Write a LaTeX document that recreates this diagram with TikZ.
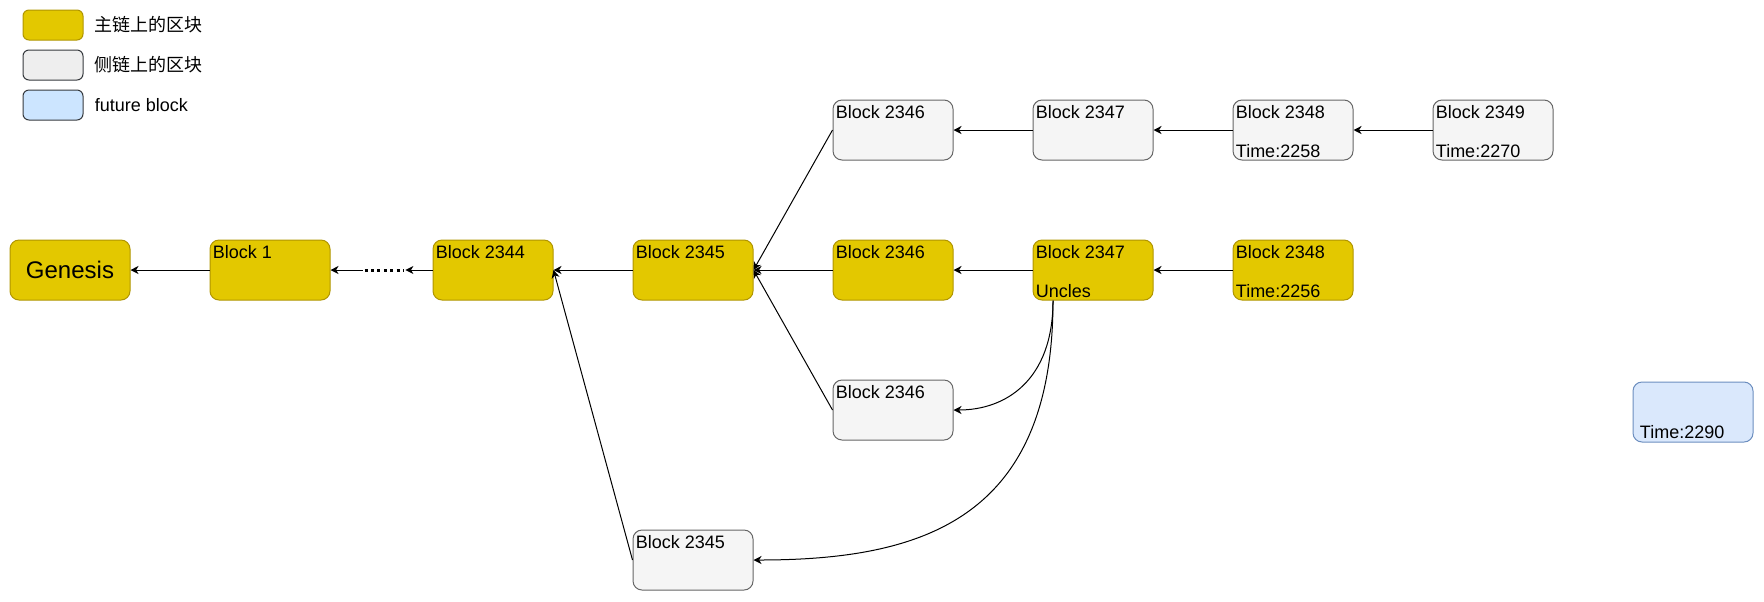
\documentclass[tikz,border=0pt]{standalone}
\usepackage{fontspec}
\setmainfont{Liberation Sans}
\newfontfamily\cjk{Noto Sans CJK SC}
\usepackage{tikz}
\usetikzlibrary{arrows.meta,calc,positioning}
\definecolor{mainfill}{HTML}{E3C800}
\definecolor{mainbd}{HTML}{B09500}
\definecolor{sidefill}{HTML}{F5F5F5}
\definecolor{sidebd}{HTML}{666666}
\definecolor{futfill}{HTML}{DAE8FC}
\definecolor{futbd}{HTML}{6C8EBF}
\definecolor{lgside}{HTML}{EEEEEE}
\definecolor{lgfut}{HTML}{CCE5FF}
\definecolor{lgbd}{HTML}{36393D}
\newcommand{\blkfont}{\fontsize{9}{10.8}\selectfont}
\newcommand{\genfont}{\fontsize{12}{14.4}\selectfont}
\tikzset{
	blk/.style={rounded corners=4.5pt, minimum width=60pt, minimum height=30pt, inner sep=0pt, line width=0.5pt},
	mainblk/.style={blk, draw=mainbd, fill=mainfill},
	sideblk/.style={blk, draw=sidebd, fill=sidefill},
	futblk/.style={blk, draw=futbd, fill=futfill},
	toptxt/.style={label={[anchor=north west, inner xsep=1.5pt, inner ysep=3pt]north west:{#1}}},
	bottxt/.style={label={[anchor=south west, inner xsep=1.5pt, inner ysep=1.3pt]south west:{#1}}},
	futtxt/.style={label={[anchor=south west, inner xsep=3.5pt, inner ysep=1.5pt]south west:{#1}}},
	lgbox/.style={rounded corners=3pt, minimum width=30pt, minimum height=15pt, inner sep=0pt, line width=0.5pt},
	lgtxt/.style={inner sep=0pt, right=5.5pt of #1},
	arr/.style={-{Stealth[length=4pt,width=4pt,inset=1.2pt]}, line width=0.5pt},
}

\begin{document}
\begin{tikzpicture}[x=0.5pt, y=-0.5pt, font=\blkfont]
		\useasboundingbox (0,0) rectangle (1764,601);
		% legend
		\node[lgbox, draw=mainbd, fill=mainfill] (lgmain) at (53,25) {};
		\node[lgbox, draw=lgbd, fill=lgside] (lgside) at (53,65) {};
		\node[lgbox, draw=lgbd, fill=lgfut] (lgfut) at (53,105) {};
		\node[lgtxt=lgmain] (lgmaint) {\cjk 主链上的区块};
		\node[lgtxt=lgside] (lgsidet) {\cjk 侧链上的区块};
		\node[lgtxt=lgfut] (lgfutt) {future block};
		% main chain
		\node[mainblk, font=\genfont] (gen) at (70,270) {Genesis};
		\node[mainblk, toptxt=Block 1] (m1) at (270,270) {};
		\node[minimum width=21pt, inner sep=0pt] (dots) at (384,270) {};
		\node[mainblk, toptxt=Block 2344] (m2344) at (493,270) {};
		\node[mainblk, toptxt=Block 2345] (m2345) at (693,270) {};
		\node[mainblk, toptxt=Block 2346] (m2346) at (893,270) {};
		\node[mainblk, toptxt=Block 2347, bottxt=Uncles] (m2347) at (1093,270) {};
		\node[mainblk, toptxt=Block 2348, bottxt=Time:2256] (m2348) at (1293,270) {};
		% side chains
		\node[sideblk, toptxt=Block 2346] (s2346a) at (893,130) {};
		\node[sideblk, toptxt=Block 2347] (s2347a) at (1093,130) {};
		\node[sideblk, toptxt=Block 2348, bottxt=Time:2258] (s2348a) at (1293,130) {};
		\node[sideblk, toptxt=Block 2349, bottxt=Time:2270] (s2349a) at (1493,130) {};
		\node[sideblk, toptxt=Block 2346] (s2346b) at (893,410) {};
		\node[sideblk, toptxt=Block 2345] (s2345b) at (693,560) {};
		\node[futblk, futtxt=Time:2290] (fut) at (1693,412) {};
		\coordinate (unc) at ([xshift=-20pt]m2347.south);
		% links
		\draw[arr] (m1) -- (gen);
		\draw[arr] (m2344) -- (dots);
		\draw[arr] (dots) -- (m1);
		\draw[line width=1.5pt, dash pattern=on 1.5pt off 1.7pt] ([xshift=1pt]dots.west) -- ([xshift=-1pt]dots.east);
		\draw[arr] (m2345) -- (m2344);
		\draw[arr] (m2346) -- (m2345);
		\draw[arr] (m2347) -- (m2346);
		\draw[arr] (m2348) -- (m2347);
		\draw[arr] (s2347a) -- (s2346a);
		\draw[arr] (s2348a) -- (s2347a);
		\draw[arr] (s2349a) -- (s2348a);
		\draw[arr] (s2346a.west) -- (m2345.east);
		\draw[arr] (s2346b.west) -- (m2345.east);
		\draw[arr] (s2345b.west) -- (m2344.east);
		\draw[arr] (unc) .. controls +(0,80) and +(52,0) .. (s2346b.east);
		\draw[arr] (unc) .. controls +(0,220) and +(167,0) .. (s2345b.east);
	\end{tikzpicture}
\end{document}
